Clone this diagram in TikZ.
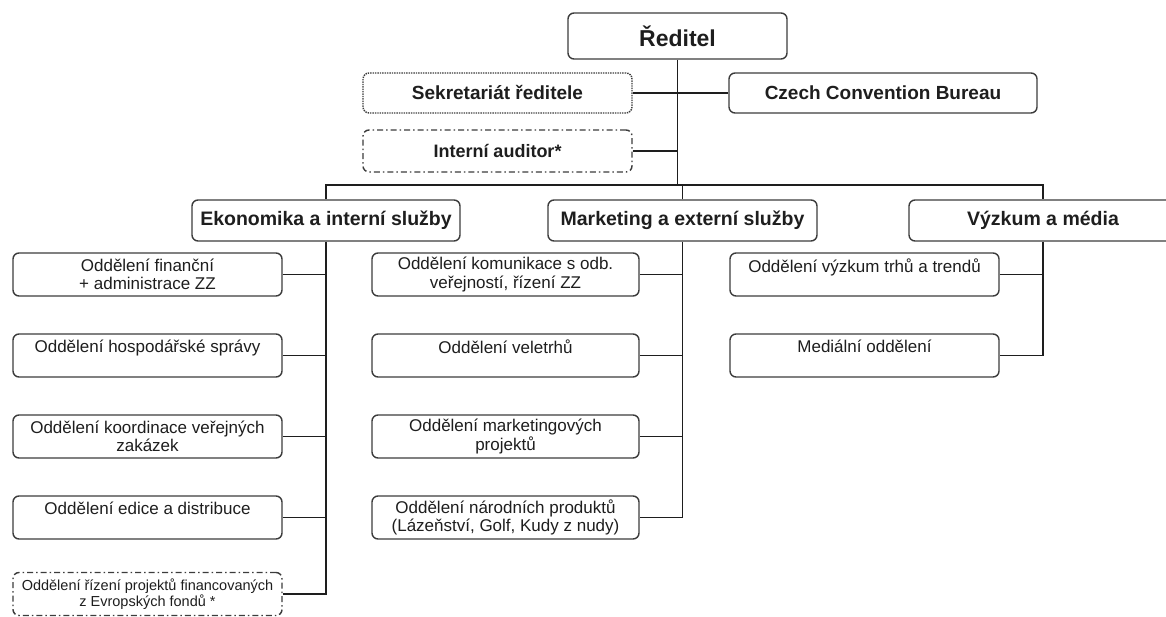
\documentclass[tikz,border=0pt]{standalone}
\usepackage{fontspec}
\setmainfont{Liberation Sans}
\definecolor{boxline}{HTML}{3C3C3C}
\definecolor{ink}{HTML}{1E1E1E}
\tikzset{
  box/.style={draw=boxline, line width=1.4pt, rounded corners=6pt, fill=white,
    text=ink, align=center, inner sep=0pt},
  chief/.style={box, minimum width=219pt, minimum height=46pt,
    font=\fontsize{23}{26}\selectfont\bfseries},
  staff/.style={box, minimum width=269pt, minimum height=40pt,
    font=\fontsize{19}{22}\selectfont\bfseries},
  division/.style={box, minimum width=268pt, minimum height=41pt,
    font=\fontsize{19.5}{22}\selectfont\bfseries},
  dept/.style={box, minimum width=269pt, minimum height=43pt,
    font=\fontsize{17}{18.5}\selectfont},
  dotbox/.style={densely dotted},
  dashdotbox/.style={dash pattern=on 6pt off 3pt on 1.5pt off 3pt},
  link/.style={draw=ink, line width=1.3pt}
}
\begin{document}
\begin{tikzpicture}[x=1pt, y=-1pt]
    \useasboundingbox (0,0) rectangle (1166,617);
    \clip (0,0) rectangle (1166,617);
    \coordinate (bus) at (0,185);
    % top
    \node[chief] (reditel) at (677.5,36) {Ředitel};
    \node[staff, dotbox] (sekr) at (497.5,93) {Sekretariát ředitele};
    \node[staff, minimum width=308pt] (ccb) at (883,93) {Czech Convention Bureau};
    \node[staff, dashdotbox, minimum height=42pt, font=\fontsize{18}{21}\selectfont\bfseries]
      (audit) at (497.5,151) {Interní auditor*};
    % divisions
    \node[division] (eko) at (326,220.5) {Ekonomika a interní služby};
    \node[division, minimum width=269pt] (mkt) at (682.5,220.5) {Marketing a externí služby};
    \node[division] (vyz) at (1043,220.5) {Výzkum a média};
    % Ekonomika a interni sluzby
    \node[dept] (e1) at (147.5,274.5) {Oddělení finanční\\+ administrace ZZ};
    \node[dept] (e2) at (147.5,355.5) {Oddělení hospodářské správy\\~};
    \node[dept] (e3) at (147.5,436.5) {Oddělení koordinace veřejných\\zakázek};
    \node[dept] (e4) at (147.5,517.5) {Oddělení edice a distribuce\\~};
    \node[dept, dashdotbox, font=\fontsize{14.5}{16}\selectfont]
      (e5) at (147.5,594) {Oddělení řízení projektů financovaných\\z Evropských fondů *};
    % Marketing a externi sluzby
    \node[dept, minimum width=267pt] (m1) at (505.5,274.5) {Oddělení komunikace s odb.\\veřejností, řízení ZZ};
    \node[dept, minimum width=267pt] (m2) at (505.5,355.5) {Oddělení veletrhů\\~};
    \node[dept, minimum width=267pt] (m3) at (505.5,436.5) {Oddělení marketingových\\projektů};
    \node[dept, minimum width=267pt] (m4) at (505.5,517.5) {Oddělení národních produktů\\(Lázeňství, Golf, Kudy z nudy)};
    % Vyzkum a media
    \node[dept] (v1) at (864.5,274.5) {Oddělení výzkum trhů a trendů\\~};
    \node[dept] (v2) at (864.5,355.5) {Mediální oddělení\\~};
    % connectors
    \draw[link] (reditel.south) -- (reditel.south |- bus);
    \draw[link] (sekr.east) -- (ccb.west);
    \draw[link] (audit.east) -- (audit.east -| reditel.south);
    \draw[link] (eko.north) -- (eko.north |- bus) -- (vyz.north |- bus) -- (vyz.north);
    \draw[link] (mkt.north) -- (mkt.north |- bus);
    \draw[link] (eko.south) -- (eko.south |- e5.east) -- (e5.east);
    \foreach \d in {e1,e2,e3,e4}
      \draw[link] (\d.east) -- (\d.east -| eko.south);
    \draw[link] (mkt.south) -- (mkt.south |- m4.east) -- (m4.east);
    \foreach \d in {m1,m2,m3}
      \draw[link] (\d.east) -- (\d.east -| mkt.south);
    \draw[link] (vyz.south) -- (vyz.south |- v2.east) -- (v2.east);
    \draw[link] (v1.east) -- (v1.east -| vyz.south);
\end{tikzpicture}
\end{document}
